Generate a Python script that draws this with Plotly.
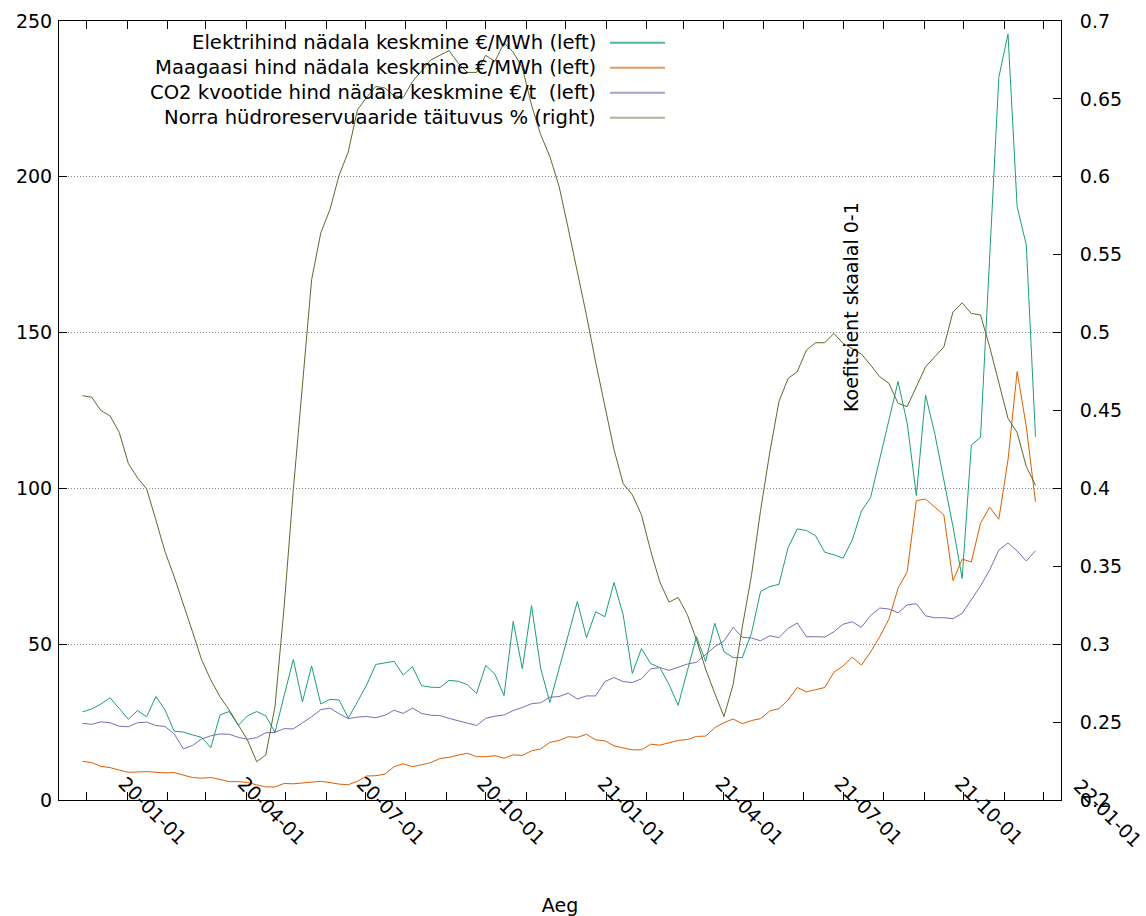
import pandas as pd
import plotly.graph_objects as go

# ---------------- data (weekly averages) ----------------
first_week = "2019-11-28"

elektrihind = [
    28.3, 29.2, 30.8, 32.8, 29.4, 25.9, 28.7, 26.7, 33.2, 28.9,
    22.1, 21.8, 20.9, 20.1, 16.8, 27.3, 28.4, 24.0, 27.0, 28.4,
    27.0, 21.7, 33.5, 45.1, 31.5, 43.0, 30.8, 32.3, 32.1, 26.3,
    31.5, 36.9, 43.5, 43.9, 44.5, 40.1, 42.8, 36.7, 36.2, 36.1,
    38.4, 38.1, 37.0, 34.2, 43.2, 40.4, 33.5, 57.3, 42.1, 62.4,
    42.2, 31.3, 42.0, 52.7, 63.7, 52.1, 60.4, 58.8, 69.8, 59.4,
    40.6, 48.6, 43.8, 42.5, 37.1, 30.4, 41.2, 52.4, 44.5, 56.7,
    47.6, 45.7, 45.7, 53.5, 66.9, 68.5, 69.2, 81.0, 87.0, 86.5,
    84.8, 79.5, 78.7, 77.6, 83.4, 92.7, 97.0, 109.5, 122.0, 134.3,
    120.9, 97.7, 130.0, 117.7, 102.7, 87.7, 71.1, 113.9, 116.4, 174.3,
    231.9, 245.8, 190.4, 178.1, 116.6,
]

maagaas = [
    12.4, 12.0, 10.8, 10.4, 9.6, 8.9, 9.0, 9.1, 8.9, 8.7,
    8.8, 7.9, 7.2, 7.0, 7.2, 6.6, 5.9, 5.9, 5.6, 4.9,
    4.2, 4.2, 5.3, 5.2, 5.4, 5.6, 6.0, 5.6, 5.1, 4.9,
    6.0, 7.7, 7.8, 8.3, 10.7, 11.6, 10.7, 11.3, 12.0, 13.3,
    13.7, 14.4, 15.0, 13.9, 13.9, 14.2, 13.4, 14.5, 14.3, 15.8,
    16.4, 18.5, 19.1, 20.3, 20.1, 21.1, 19.3, 19.0, 17.4, 16.7,
    16.1, 16.1, 17.9, 17.6, 18.4, 19.1, 19.4, 20.4, 20.5, 23.2,
    24.8, 26.0, 24.5, 25.5, 26.1, 28.6, 29.3, 32.1, 36.1, 34.7,
    35.4, 36.1, 41.0, 43.0, 45.8, 43.3, 47.5, 52.4, 58.0, 67.9,
    73.3, 96.1, 96.6, 93.9, 91.5, 70.4, 77.3, 76.4, 88.8, 94.0,
    90.1, 109.1, 137.5, 119.8, 95.7,
]

co2 = [
    24.6, 24.3, 25.1, 24.8, 23.7, 23.5, 24.8, 25.0, 23.9, 23.6,
    21.2, 16.4, 17.5, 19.6, 20.6, 21.2, 21.1, 20.1, 19.5, 20.0,
    21.6, 21.7, 22.9, 22.8, 24.8, 26.7, 29.0, 29.5, 27.7, 26.1,
    26.6, 26.8, 26.4, 27.2, 28.8, 27.8, 29.5, 27.8, 27.2, 27.1,
    26.2, 25.4, 24.5, 23.9, 26.2, 26.9, 27.3, 28.7, 29.7, 30.9,
    31.2, 33.0, 33.2, 34.3, 32.4, 33.4, 33.4, 38.0, 39.3, 38.0,
    37.7, 38.9, 42.1, 42.5, 41.6, 42.6, 43.6, 44.2, 46.8, 49.2,
    51.0, 55.4, 52.2, 52.0, 51.1, 52.7, 52.1, 55.1, 56.8, 52.4,
    52.4, 52.3, 54.0, 56.4, 57.2, 55.4, 59.2, 61.6, 61.3, 60.1,
    62.6, 63.0, 59.1, 58.5, 58.5, 58.2, 59.9, 64.4, 68.7, 73.8,
    80.2, 82.5, 79.9, 76.7, 80.0,
]

hydro = [
    0.4595, 0.4585, 0.450, 0.4465, 0.436, 0.416, 0.4067, 0.3996, 0.3797, 0.3594,
    0.3433, 0.3262, 0.308, 0.2899, 0.277, 0.2663, 0.2578, 0.2481, 0.2385, 0.2246,
    0.2289, 0.2599, 0.324, 0.399, 0.4675, 0.534, 0.564, 0.579, 0.601, 0.616,
    0.643, 0.651, 0.658, 0.657, 0.652, 0.651, 0.661, 0.668, 0.675, 0.678,
    0.681, 0.673, 0.667, 0.667, 0.678, 0.674, 0.686, 0.680, 0.670, 0.646,
    0.627, 0.613, 0.594, 0.567, 0.540, 0.511, 0.481, 0.452, 0.425, 0.403,
    0.396, 0.383, 0.360, 0.340, 0.327, 0.330, 0.319, 0.303, 0.284, 0.2685,
    0.2535, 0.274, 0.311, 0.344, 0.386, 0.423, 0.4557, 0.4706, 0.4749, 0.4888,
    0.4935, 0.4935, 0.4995, 0.4931, 0.4899, 0.4863, 0.4792, 0.4717, 0.4675, 0.4546,
    0.4525, 0.4652, 0.478, 0.4844, 0.4908, 0.5133, 0.5191, 0.5123, 0.5113, 0.4908,
    0.4675, 0.445, 0.4358, 0.414, 0.402,
]

series_names = [
    "Elektrihind nädala keskmine €/MWh (left)",
    "Maagaasi hind nädala keskmine €/MWh (left)",
    "CO2 kvootide hind nädala keskmine €/t  (left)",
    "Norra hüdroreservuaaride täituvus % (right)",
]

x_range = ["2019-11-10", "2021-12-14 12:00"]
month_ticks = pd.date_range("2019-12-01", "2021-12-01", freq="MS")
quarter_months = [1, 4, 7, 10]
outside_label = "2022-01-01"

y_ticks = [0, 50, 100, 150, 200, 250]
y2_ticks = [0.2, 0.25, 0.3, 0.35, 0.4, 0.45, 0.5, 0.55, 0.6, 0.65, 0.7]
y2_ticktext = ["0.2", "0.25", "0.3", "0.35", "0.4", "0.45", "0.5", "0.55", "0.6", "0.65", "0.7"]

# ---------------- styling ----------------
colors = ["#1b9e77", "#d95f02", "#7570b3", "#5b6b2f"]
legend_colors = ["rgba(27,158,119,0.75)", "rgba(217,95,2,0.65)",
                 "rgba(117,112,179,0.65)", "rgba(91,107,47,0.5)"]
FONT = "DejaVu Sans"
W, H = 1146, 916
ML, MR, MT, MB = 59, 85, 21, 116
PW, PH = W - ML - MR, H - MT - MB


def px_x(px):
    return (px - ML) / PW


def px_y(py):
    return (H - MB - py) / PH


dates = pd.date_range(first_week, periods=len(elektrihind), freq="7D")

fig = go.Figure()
series = [elektrihind, maagaas, co2]
for name, vals, col in zip(series_names[:3], series, colors[:3]):
    fig.add_trace(go.Scatter(x=dates, y=vals, mode="lines", name=name,
                             line=dict(color=col, width=1), showlegend=False))
fig.add_trace(go.Scatter(x=dates, y=hydro, mode="lines", name=series_names[3],
                         yaxis="y2", line=dict(color=colors[3], width=1),
                         showlegend=False))

tick_text = [d.strftime("%y-%m-%d") if d.month in quarter_months else "" for d in month_ticks]

fig.update_layout(
    width=W, height=H,
    margin=dict(l=ML, r=MR, t=MT, b=MB, autoexpand=False),
    paper_bgcolor="white", plot_bgcolor="white",
    font=dict(family=FONT, size=19, color="black"),
    xaxis=dict(
        type="date", range=x_range, automargin=False,
        tickvals=list(month_ticks), ticktext=tick_text,
        tickangle=45, ticks="inside", ticklen=8, tickcolor="black",
        ticklabelstandoff=-36, ticklabelshift=-3,
        showline=True, linecolor="black", linewidth=1, mirror="ticks",
        showgrid=False, zeroline=False,
        title=dict(text="Aeg", standoff=50, font=dict(size=19)),
    ),
    yaxis=dict(
        range=[0, 250], tickvals=y_ticks, ticks="inside", ticklen=8,
        automargin=False, ticklabelstandoff=2,
        tickcolor="black", showline=True, linecolor="black", linewidth=1,
        showgrid=True, gridcolor="#8a8a8a", griddash="1px,2px", gridwidth=1,
        zeroline=False,
    ),
    yaxis2=dict(
        overlaying="y", side="right", range=[0.2, 0.7], automargin=False,
        tickvals=y2_ticks, ticktext=y2_ticktext, ticks="inside", ticklen=8,
        ticklabelstandoff=14,
        tickcolor="black", showline=True, linecolor="black", linewidth=1,
        showgrid=False, zeroline=False,
    ),
)

# legend (text right-aligned, sample line to the right, as in the reference)
legend_rows_px = [42.7, 67.7, 92.7, 117.7]
for name, lc, ry in zip(series_names, legend_colors, legend_rows_px):
    fig.add_annotation(xref="paper", yref="paper", x=px_x(598), y=px_y(ry),
                       text=name, showarrow=False, xanchor="right", yanchor="middle",
                       font=dict(family=FONT, size=19.6, color="black"))
    fig.add_shape(type="line", xref="paper", yref="paper",
                  x0=px_x(610), x1=px_x(665), y0=px_y(ry), y1=px_y(ry),
                  line=dict(color=lc, width=2))

# right axis title (gnuplot places it inside the plot)
fig.add_annotation(xref="paper", yref="paper", x=px_x(851), y=px_y(307),
                   text="Koefitsient skaalal 0-1", textangle=-90, showarrow=False,
                   xanchor="center", yanchor="middle",
                   font=dict(family=FONT, size=19, color="black"))

# the last tick label lies beyond the axis end in the reference
t0, t1 = pd.Timestamp(x_range[0]), pd.Timestamp(x_range[1])
frac = (pd.Timestamp(outside_label) - t0) / (t1 - t0)
fig.add_annotation(xref="paper", yref="paper", x=frac + 24 / PW, y=px_y(813),
                   text=pd.Timestamp(outside_label).strftime("%y-%m-%d"),
                   textangle=45, showarrow=False, xanchor="center", yanchor="middle",
                   font=dict(family=FONT, size=19, color="black"))

fig.write_html("out.html", config={"displayModeBar": False},
               post_script="document.body.style.margin='0px';")
